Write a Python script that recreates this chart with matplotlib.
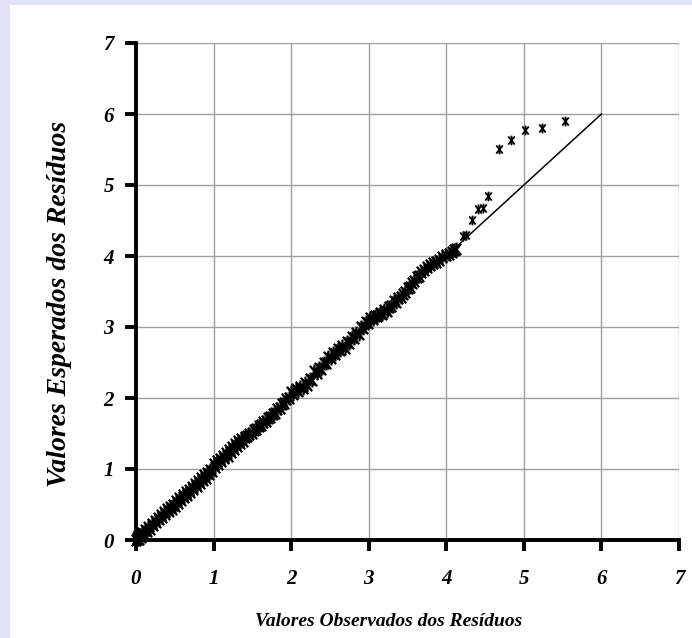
import numpy as np
import matplotlib
matplotlib.use("Agg")
import matplotlib.pyplot as plt
from matplotlib.path import Path
from matplotlib.patches import Rectangle

# ------------------------------------------------------------------------------------------
# data read off the picture (observed residual, expected residual)

obs_low = [0.00, 0.01, 0.02, 0.03, 0.04, 0.05, 0.06, 0.08, 0.10, 0.12, 0.14, 0.16, 0.18, 0.20,
           0.22, 0.24, 0.26, 0.28, 0.30, 0.32, 0.34, 0.36, 0.38, 0.40, 0.42, 0.44, 0.46, 0.48,
           0.50, 0.52, 0.54, 0.56, 0.58, 0.60, 0.62, 0.64, 0.66, 0.68, 0.70, 0.72, 0.74, 0.76,
           0.78, 0.80, 0.82, 0.84, 0.86, 0.88, 0.90, 0.92, 0.94, 0.96, 0.98]
exp_low = [0.00, 0.03, 0.01, 0.05, 0.02, 0.07, 0.04, 0.10, 0.08, 0.14, 0.12, 0.18, 0.16, 0.22,
           0.21, 0.27, 0.25, 0.31, 0.29, 0.35, 0.33, 0.39, 0.37, 0.43, 0.41, 0.47, 0.44, 0.50,
           0.48, 0.55, 0.52, 0.59, 0.56, 0.63, 0.60, 0.67, 0.64, 0.71, 0.68, 0.75, 0.72, 0.79,
           0.76, 0.83, 0.80, 0.87, 0.84, 0.91, 0.88, 0.95, 0.93, 0.99, 0.97]

obs_mid = [1.00, 1.02, 1.04, 1.06, 1.08, 1.10, 1.12, 1.14, 1.16, 1.18, 1.20, 1.22, 1.24, 1.26,
           1.28, 1.30, 1.32, 1.34, 1.36, 1.38, 1.40, 1.43, 1.46, 1.49, 1.52, 1.55, 1.58, 1.61,
           1.64, 1.67, 1.70, 1.73, 1.76, 1.79, 1.82, 1.85, 1.88, 1.91, 1.94, 1.97]
exp_mid = [1.07, 1.03, 1.11, 1.07, 1.14, 1.11, 1.18, 1.15, 1.22, 1.19, 1.27, 1.24, 1.31, 1.28,
           1.35, 1.32, 1.39, 1.36, 1.42, 1.40, 1.45, 1.46, 1.50, 1.51, 1.55, 1.57, 1.60, 1.62,
           1.66, 1.67, 1.72, 1.73, 1.78, 1.79, 1.85, 1.86, 1.92, 1.93, 1.99, 2.00]

obs_upper = [2.00, 2.03, 2.06, 2.09, 2.12, 2.15, 2.18, 2.21, 2.24, 2.27, 2.30, 2.33, 2.36, 2.39,
             2.42, 2.45, 2.48, 2.51, 2.54, 2.57, 2.60, 2.63, 2.66, 2.69, 2.72, 2.75, 2.78, 2.81,
             2.84, 2.87, 2.90, 2.93, 2.96, 2.99]
exp_upper = [2.09, 2.06, 2.12, 2.10, 2.16, 2.14, 2.21, 2.19, 2.27, 2.25, 2.38, 2.35, 2.42, 2.41,
             2.50, 2.49, 2.58, 2.57, 2.63, 2.62, 2.69, 2.67, 2.73, 2.71, 2.79, 2.77, 2.86, 2.84,
             2.92, 2.90, 3.00, 2.98, 3.07, 3.05]

obs_high = [3.02, 3.05, 3.08, 3.11, 3.14, 3.17, 3.20, 3.23, 3.26, 3.29, 3.32, 3.35, 3.38, 3.41,
            3.44, 3.47, 3.50, 3.53, 3.56, 3.59, 3.62, 3.65, 3.68, 3.71, 3.75, 3.79, 3.83, 3.87,
            3.91, 3.95, 3.99, 4.03, 4.07, 4.10, 4.13]
exp_high = [3.13, 3.11, 3.16, 3.15, 3.20, 3.18, 3.24, 3.22, 3.28, 3.30, 3.36, 3.35, 3.41, 3.42,
            3.47, 3.49, 3.55, 3.56, 3.62, 3.65, 3.70, 3.72, 3.78, 3.80, 3.84, 3.87, 3.90, 3.92,
            3.95, 3.99, 4.01, 4.03, 4.06, 4.09, 4.10]

obs_tail = [4.21, 4.26, 4.33, 4.41, 4.47, 4.54, 4.68, 4.83, 5.01, 5.24, 5.53]
exp_tail = [4.28, 4.30, 4.51, 4.66, 4.68, 4.85, 5.51, 5.63, 5.77, 5.80, 5.90]

ref_x = [0, 6]
ref_y = [0, 6]

ticks = list(range(0, 8))

observados = np.array(obs_low + obs_mid + obs_upper + obs_high)
esperados = np.array(exp_low + exp_mid + exp_upper + exp_high)

# ------------------------------------------------------------------------------------------
# excel-like star marker: an x with a vertical bar
star = Path(
    [(-0.8, -1), (0.8, 1), (-0.8, 1), (0.8, -1), (0, -1.2), (0, 1.2)],
    [Path.MOVETO, Path.LINETO, Path.MOVETO, Path.LINETO, Path.MOVETO, Path.LINETO],
)

plt.rcParams['font.family'] = ['Liberation Serif', 'DejaVu Serif']

fig = plt.figure(figsize=(6.92, 6.38), dpi=100)
fig.patch.set_facecolor("white")

# lavender slide edges on the left and top
fig.patches.append(Rectangle((0, 0), 10 / 692, 1, transform=fig.transFigure,
                             facecolor="#E2E2F8", edgecolor="none", zorder=-1))
fig.patches.append(Rectangle((0, 1 - 5 / 638), 1, 5 / 638, transform=fig.transFigure,
                             facecolor="#E2E2F8", edgecolor="none", zorder=-1))

ax = fig.add_axes([136 / 692, 1 - 540 / 638, (679 - 136) / 692, (540 - 43) / 638])

ax.plot(ref_x, ref_y, color="black", linewidth=1.1, zorder=3)
# dense body of the band
ax.plot(observados, esperados, linestyle="none", marker=star, markersize=10,
        markeredgewidth=1.6, color="black", zorder=4, clip_on=False)
# isolated upper tail
ax.plot(obs_tail, exp_tail, linestyle="none", marker=star, markersize=7,
        markeredgewidth=1.3, color="black", zorder=4)

ax.set_xlim(0, 7)
ax.set_ylim(0, 7)
ax.set_xticks(ticks)
ax.set_yticks(ticks)
ax.grid(True, color="#a0a0a0", linewidth=1.0)
ax.set_axisbelow(True)

for side in ("top", "right"):
    ax.spines[side].set_visible(False)
for side in ("left", "bottom"):
    ax.spines[side].set_linewidth(2.8)

ax.tick_params(axis="both", direction="out", length=8, width=2.8, labelsize=15)
ax.tick_params(axis="x", pad=13)
ax.tick_params(axis="y", pad=8)
for lbl in ax.get_xticklabels() + ax.get_yticklabels():
    lbl.set_fontweight("bold")
    lbl.set_fontstyle("italic")

# axis titles placed like the original text boxes
fig.text(389 / 692, 1 - 622 / 638, "Valores Observados dos Resíduos", fontsize=14,
         fontweight="bold", fontstyle="italic", ha="center", va="center")
fig.text(60 / 692, 1 - 304 / 638, "Valores Esperados dos Resíduos", fontsize=20,
         fontweight="bold", fontstyle="italic", ha="center", va="center", rotation=90)

fig.savefig("out.png", dpi=100)
